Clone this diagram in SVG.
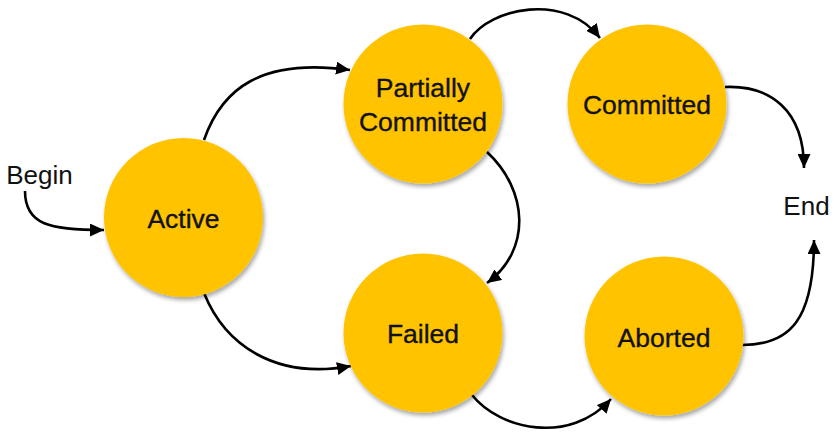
<svg xmlns="http://www.w3.org/2000/svg" width="837" height="441" viewBox="0 0 837 441">
<defs>
<filter id="sh" x="-20%" y="-20%" width="140%" height="140%">
<feDropShadow dx="1.5" dy="3" stdDeviation="2" flood-color="#000" flood-opacity="0.35"/>
</filter>
<marker id="ah" markerUnits="userSpaceOnUse" markerWidth="15" markerHeight="13" refX="14" refY="6.5" orient="auto">
<path d="M0,0 L14,6.5 L0,13 z" fill="#000"/>
</marker>
</defs>
<style>
.node circle{fill:#FFC300;filter:url(#sh)}
text{font-family:"Liberation Sans",Arial,Helvetica,sans-serif;font-size:26px;fill:#111;text-anchor:middle}
.node text{font-size:26.5px;stroke:#111;stroke-width:0.35}
.edge{fill:none;stroke:#000;stroke-width:2.6;marker-end:url(#ah)}
</style>
<rect width="837" height="441" fill="#fff"/>
<g id="connectors">
<path class="edge" d="M25 191 C25 225 50 230 104 230"/>
<path class="edge" d="M204 140 C222 88 262 58 350 70"/>
<path class="edge" d="M204 293 C225 345 275 380 351 366"/>
<path class="edge" d="M470 39 C490 8 565 -8 600 38"/>
<path class="edge" d="M725 87 C770 85 804 110 804 168"/>
<path class="edge" d="M487 152 C528 190 532 250 487 283"/>
<path class="edge" d="M472 395 C500 430 570 445 611 399"/>
<path class="edge" d="M742 345 C790 345 814 320 814 240"/>
</g>
<g id="begin"><text x="39.5" y="184">Begin</text></g>
<g id="end"><text x="806.5" y="215">End</text></g>
<g id="active" class="node"><circle cx="183.5" cy="217.5" r="79.5"/><text x="183.5" y="228">Active</text></g>
<g id="partially-committed" class="node"><circle cx="423" cy="104" r="79.5"/><text x="423" y="97">Partially</text><text x="423" y="131">Committed</text></g>
<g id="committed" class="node"><circle cx="647" cy="104" r="79.5"/><text x="647" y="114">Committed</text></g>
<g id="failed" class="node"><circle cx="423" cy="333" r="79.5"/><text x="423" y="343">Failed</text></g>
<g id="aborted" class="node"><circle cx="664" cy="336" r="79.5"/><text x="664" y="347">Aborted</text></g>
</svg>
